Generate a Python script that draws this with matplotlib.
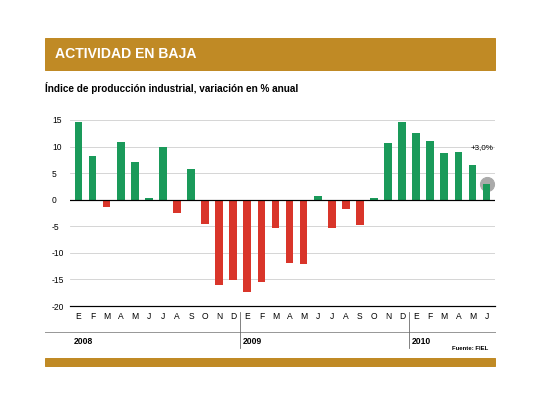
import numpy as np
import matplotlib.pyplot as plt
from matplotlib.patches import Rectangle

# -------------------------------
# Data
# -------------------------------
months = ['E', 'F', 'M', 'A', 'M', 'J', 'J', 'A', 'S', 'O', 'N', 'D'] * 2 + ['E', 'F', 'M', 'A', 'M', 'J']
values = [14.6, 8.2, -1.4, 10.9, 7.0, 0.4, 9.9, -2.5, 5.75, -4.6, -16.1, -15.1,
          -17.3, -15.5, -5.3, -11.9, -12.1, 0.7, -5.3, -1.7, -4.7, 0.4, 10.6, 14.7,
          12.6, 11.0, 8.7, 8.9, 6.6, 3.0]
years = ['2008', '2009', '2010']
year_start = [0, 12, 24]
yticks = [15, 10, 5, 0, -5, -10, -15, -20]

GOLD = '#c08a25'
GREEN = '#1a9a5a'
RED = '#d9352a'

W, H = 540, 405
fig = plt.figure(figsize=(W / 72, H / 72), dpi=72)

def fx(px):
    return px / W

def fy(py):
    return 1 - py / H

# header bar
fig.patches.append(Rectangle((fx(45), fy(70)), fx(450), 32 / H, transform=fig.transFigure,
                             color=GOLD, zorder=0))
fig.text(fx(55), fy(54), 'ACTIVIDAD EN BAJA', color='white', fontsize=14, fontweight='bold',
         va='center', family='Liberation Sans Narrow' if False else 'DejaVu Sans Condensed' if False else 'Liberation Sans')
fig.text(fx(45), fy(88), 'Índice de producción industrial, variación en % anual', fontsize=10,
         fontweight='bold', va='center', family='Liberation Sans')
# bottom bar
fig.patches.append(Rectangle((fx(45), fy(366)), fx(450), 8 / H, transform=fig.transFigure,
                             color=GOLD, zorder=0))

# -------------------------------
# Bars
# -------------------------------
ax = fig.add_axes([fx(70), fy(306), fx(425), (306 - 112) / H])
x = np.arange(len(values))
colors = [GREEN if v >= 0 else RED for v in values]
ax.bar(x, values, width=0.55, color=colors, zorder=3)
ax.axhline(0, color='black', lw=1.2, zorder=4)
ax.set_ylim(-20, 16.5)
ax.set_xlim(-0.6, len(values) - 0.4)
ax.set_yticks(yticks)
ax.set_yticklabels([str(t) for t in yticks], fontsize=8.5, family='Liberation Sans')
ax.tick_params(length=0, pad=18)
for t in ax.get_yticklabels():
    t.set_horizontalalignment('left')
ax.grid(axis='y', color='#cccccc', lw=0.8, zorder=0)
for s in ['top', 'right', 'left']:
    ax.spines[s].set_visible(False)
ax.spines['bottom'].set_linewidth(1.2)
ax.set_xticks(x)
ax.set_xticklabels(months, fontsize=8.5, family='Liberation Sans')
ax.tick_params(axis='x', pad=6)

# highlight last value
ax.scatter([x[-1]], [values[-1]], s=200, color='#aaaaaa', zorder=2)
ax.text(x[-1] - 0.3, values[-1] + 6.5, '+3,0%', fontsize=8, ha='center', family='Liberation Sans')

# year axis
fig.add_artist(plt.Line2D([fx(45), fx(495)], [fy(332), fy(332)], color='#999999', lw=1))
for ys, yr in zip(year_start, years):
    xd = ax.transData.transform((ys - 0.5, 0))[0]
    xf = fig.transFigure.inverted().transform((xd, 0))[0]
    if ys > 0:
        fig.add_artist(plt.Line2D([xf, xf], [fy(312), fy(348)], color='#666666', lw=0.8))
    fig.text(max(xf, fx(45)) + 0.005, fy(342), yr, fontsize=8.5, fontweight='bold',
             va='center', family='Liberation Sans')
fig.text(fx(488), fy(349), 'Fuente: FIEL', fontsize=6, ha='right', va='center',
         family='Liberation Sans', fontweight='bold')

fig.savefig('out.png', dpi=72)
